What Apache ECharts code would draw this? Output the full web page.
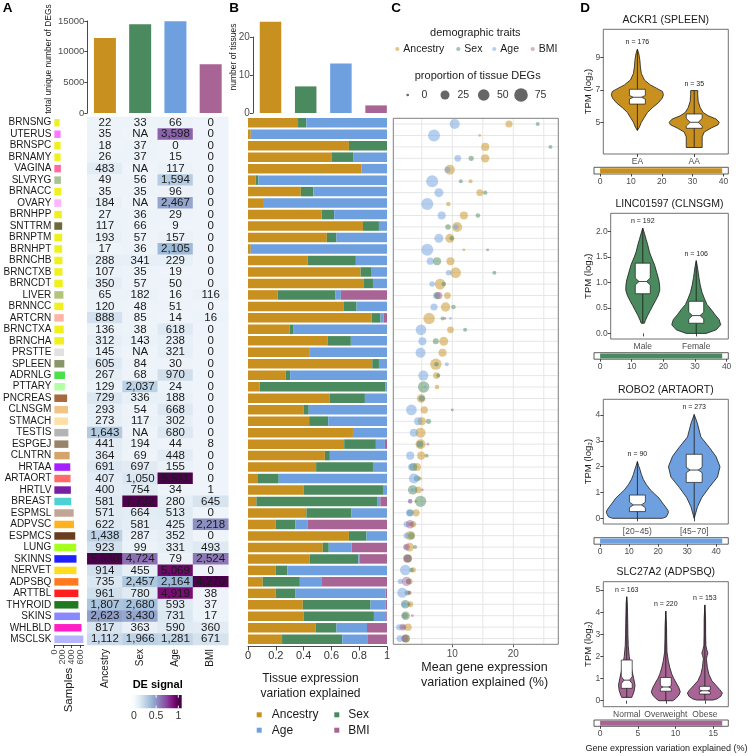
<!DOCTYPE html>
<html>
<head>
<meta charset="utf-8">
<script src="https://cdn.jsdelivr.net/npm/echarts@6.0.0/dist/echarts.min.js"></script>
<style>
html,body{margin:0;padding:0;background:#fff;}
#chart{width:748px;height:756px;}
</style>
</head>
<body>
<div id="chart"></div>
<script>
// ---------------- DATA ----------------
const traits = ['Ancestry', 'Sex', 'Age', 'BMI'];
const totalDEGs = [12230, 14460, 14950, 7940];
const tissueCounts = [24, 7, 13, 2];

const tissues = ['BRNSNG','UTERUS','BRNSPC','BRNAMY','VAGINA','SLVRYG','BRNACC','OVARY','BRNHPP','SNTTRM','BRNPTM','BRNHPT','BRNCHB','BRNCTXB','BRNCDT','LIVER','BRNNCC','ARTCRN','BRNCTXA','BRNCHA','PRSTTE','SPLEEN','ADRNLG','PTTARY','PNCREAS','CLNSGM','STMACH','TESTIS','ESPGEJ','CLNTRN','HRTAA','ARTAORT','HRTLV','BREAST','ESPMSL','ADPVSC','ESPMCS','LUNG','SKINNS','NERVET','ADPSBQ','ARTTBL','THYROID','SKINS','WHLBLD','MSCLSK'];
const samples = [123,145,145,145,152,152,159,159,174,181,181,181,188,188,195,210,210,217,217,224,224,231,246,246,296,318,318,325,325,354,369,376,383,390,448,455,484,506,513,513,557,557,557,593,629,672];
const sampleTicks = [0, 200, 400, 600];

const degAncestry = [22,35,18,26,483,49,35,184,27,117,193,17,288,107,350,65,120,888,136,312,145,605,267,129,729,293,273,1643,441,364,691,407,400,581,571,622,1438,923,5530,914,735,961,1807,2623,817,1112];
const degSex = [33,null,37,37,null,56,35,null,36,66,57,36,341,35,57,182,48,85,38,143,null,84,68,2037,336,54,117,null,194,69,697,1050,754,7732,664,581,287,99,4724,455,2457,780,2680,3430,363,1966];
const degAge = [66,3598,0,15,117,1594,96,2467,29,9,157,2105,229,19,50,16,51,14,618,238,321,30,970,24,188,668,302,680,44,448,155,5511,34,280,513,425,352,331,79,5069,2164,4919,593,731,590,1281];
const degBMI = [0,0,0,0,0,0,0,0,0,0,0,0,0,0,0,116,0,16,0,0,0,0,0,0,0,0,0,0,8,0,0,0,1,645,0,2218,0,493,2524,0,4270,38,37,17,360,671];

const varAncestry = [.36,.02,.726,.60,.815,.055,.38,.108,.53,.827,.567,.02,.43,.81,.834,.214,.69,.889,.30,.572,.445,.894,.272,.084,.589,.399,.44,.755,.692,.553,.49,.072,.399,.06,.42,.20,.726,.538,.445,.20,.106,.20,.394,.399,.488,.245];
const varSex = [.06,0,.274,.156,0,.02,.09,0,.09,.115,.07,0,.346,.075,.065,.416,.091,.065,.024,.168,0,.048,.031,.906,.252,.038,.137,0,.228,.036,.409,.149,.572,.873,.325,.142,.127,.043,.349,.084,.267,.139,.488,.507,.149,.433];
const varAge = [.58,.98,0,.244,.185,.925,.53,.892,.38,.058,.363,.98,.224,.115,.101,.038,.219,.022,.676,.26,.555,.058,.697,.01,.159,.563,.423,.245,.065,.411,.101,.779,.029,.019,.255,.089,.147,.164,.007,.716,.159,.651,.108,.089,.219,.185];
const varBMI = [0,0,0,0,0,0,0,0,0,0,0,0,0,0,0,.332,0,.024,0,0,0,0,0,0,0,0,0,0,.015,0,0,0,0,.048,0,.569,0,.255,.2,0,.469,.01,.01,.005,.144,.137];

const meanAncestry = [19.3,14.5,15.4,15.4,9.6,13.0,14.5,9.35,11.9,10.8,9.6,11.9,9.7,10.55,8.0,9.2,8.9,6.2,9.7,8.6,8.4,7.3,7.4,7.5,4.9,5.4,5.0,4.8,4.8,4.9,4.2,4.7,4.4,4.0,4.05,3.6,3.1,3.0,2.75,3.6,3.0,2.95,3.1,2.25,2.75,2.4];
const propAncestry = [12,0,18,20,34,1,10,2,18,34,25,0,18,40,40,10,28,47,10,25,18,47,10,2,22,13,18,34,34,18,18,1,10,0,13,7,28,22,18,4,7,1,7,7,13,18];
const meanSex = [24.0,null,26.1,13.1,null,11.4,15.4,null,14.2,9.3,9.9,15.8,7.5,16.9,8.6,7.5,10.2,8.4,12.1,7.3,null,7.4,7.7,5.3,5.0,10.0,6.1,null,4.7,5.8,3.6,4.2,3.5,4.8,3.1,3.2,3.3,3.9,2.7,3.3,2.8,2.6,2.3,2.35,2.0,2.35];
const propSex = [1,null,1,4,null,1,2,null,2,5,2,0,18,1,2,13,2,1,1,7,null,2,1,47,7,0,4,null,10,1,18,7,28,47,10,2,10,1,18,2,4,4,22,22,2,18];
const meanAge = [10.4,7.0,null,10.9,9.2,6.7,7.8,5.9,8.26,10.6,7.8,5.9,6.4,9.4,6.7,7.3,7.0,9.7,4.87,5.1,4.8,9.1,5.25,5.5,5.1,3.3,4.4,3.7,4.5,3.1,3.3,3.7,3.5,3.1,3.0,2.5,2.5,2.4,2.6,2.3,1.5,1.8,2.1,2.1,1.3,1.4];
const propAge = [34,54,null,10,7,54,25,54,18,4,25,54,13,5,5,2,12,0,40,18,34,1,34,0,1,40,18,18,1,18,10,34,1,2,13,7,7,2,0,40,4,34,4,1,7,10];
const meanBMI = [null,null,null,null,null,null,null,null,null,null,null,null,null,null,null,7.8,null,8.8,null,null,null,null,null,null,null,null,null,null,6.0,null,null,null,5.1,3.1,null,3.1,null,2.5,2.6,null,2.5,3.0,2.95,3.45,1.9,2.2];
const propBMI = [null,null,null,null,null,null,null,null,null,null,null,null,null,null,null,13,null,0,null,null,null,null,null,null,null,null,null,null,0,null,null,null,0,2,null,22,null,10,18,null,28,1,0,0,10,10];

// Panel D: violin density profiles [value, half-width in category units], box stats [q1, median, q3], n
const ackr1Cats = ['EA', 'AA'];
const ackr1EA = [[4.5,0],[4.7,.035],[5.0,.07],[5.3,.123],[5.6,.176],[5.9,.264],[6.2,.37],[6.5,.44],[6.7,.458],[6.9,.44],[7.1,.335],[7.3,.229],[7.6,.123],[8.0,.07],[8.4,.053],[8.8,.044],[9.2,.026],[9.5,0]];
const ackr1AA = [[3.45,.14],[3.8,.14],[4.1,.14],[4.4,.176],[4.65,.3],[4.85,.42],[5.0,.44],[5.2,.387],[5.4,.246],[5.6,.158],[5.9,.106],[6.3,.07],[6.7,.062],[6.95,.062]];
const ackr1Box = [[6.12,6.54,7.03],[4.63,5.0,5.51]];
const ackr1N = [176, 35];
const ackr1Var = 39.6;

const lincCats = ['Male', 'Female'];
const lincMale = [[0.2,.03],[0.25,.047],[0.35,.09],[0.45,.14],[0.55,.19],[0.65,.243],[0.75,.29],[0.85,.318],[0.95,.315],[1.05,.3],[1.2,.26],[1.35,.219],[1.5,.16],[1.6,.125],[1.75,.09],[1.85,.062],[1.95,.035],[2.07,0]];
const lincFemale = [[0.0,.187],[0.07,.374],[0.17,.458],[0.27,.43],[0.37,.35],[0.47,.28],[0.57,.2],[0.68,.155],[0.8,.11],[0.95,.075],[1.1,.05],[1.2,.037],[1.32,.02],[1.43,0]];
const lincBox = [[0.78,1.02,1.38],[0.2,0.35,0.63]];
const lincN = [192, 106];
const lincVar = 38.6;

const robo2Cats = ['[20\u221245)', '[45\u221270]'];
const robo2Young = [[0,.44],[0.06,.51],[0.22,.546],[0.3,.54],[0.45,.493],[0.6,.44],[0.78,.382],[0.95,.3],[1.1,.229],[1.3,.16],[1.5,.106],[1.7,.07],[1.9,.044],[2.05,.02],[2.2,0]];
const robo2Old = [[0,0],[0.45,.058],[0.8,.132],[1.2,.264],[1.6,.41],[2.0,.454],[2.4,.382],[2.75,.264],[3.15,.118],[3.7,.053],[4.02,0]];
const robo2Box = [[0.26,0.52,0.9],[1.39,1.87,2.48]];
const robo2N = [90, 273];
const robo2Var = 42.1;

const slcCats = ['Normal', 'Overweight', 'Obese'];
const slcNormal = [[0.15,.128],[0.25,.154],[0.45,.192],[0.7,.212],[1.0,.179],[1.3,.141],[1.6,.102],[2.0,.064],[2.5,.038],[3.0,.03],[3.5,.026],[4.0,.02],[4.4,.015],[4.7,0]];
const slcOverweight = [[0,.179],[0.1,.256],[0.25,.333],[0.4,.371],[0.6,.333],[0.8,.269],[1.0,.205],[1.2,.154],[1.5,.102],[1.8,.064],[2.2,.03],[2.8,.022],[3.4,.018],[4.05,0]];
const slcObese = [[0.03,.205],[0.08,.307],[0.2,.41],[0.35,.448],[0.5,.384],[0.7,.282],[0.9,.179],[1.2,.102],[1.5,.064],[1.9,.038],[2.05,.06],[2.15,.077],[2.3,.05],[2.5,.026],[3.0,.02],[3.7,.018],[4.33,0]];
const slcBox = [[0.56,0.93,1.84],[0.43,0.62,1.05],[0.3,0.45,0.65]];
const slcN = [163, 220, 153];
const slcVar = 16.2;

const sizeLegendValues = [0, 25, 50, 75];
const deLegendTicks = [0, 0.5, 1];

// ---------------- STYLES ----------------
const FONT = '"Liberation Sans", Arial, Helvetica, sans-serif';
const traitColors = ['#C8901F', '#4A8A5E', '#6EA0E0', '#A86494'];
const BuPu = ['#f7fcfd','#e0ecf4','#bfd3e6','#9ebcda','#8c96c6','#8c6bb1','#88419d','#810f7c','#4d004b'];
const heatColors = ['#eef4f9','#dde8f2','#bfd3e6','#9ebcda','#8c96c6','#8c6bb1','#88419d','#810f7c','#4d004b'];
const tissueColors = ['#EEEE00','#FF66FF','#EEEE00','#EEEE00','#FF5599','#99BB88','#EEEE00','#FFAAFF','#EEEE00','#555522','#EEEE00','#EEEE00','#EEEE00','#EEEE00','#EEEE00','#AABB66','#EEEE00','#FFAA99','#EEEE00','#EEEE00','#DDDDDD','#778855','#33DD33','#AAFF99','#995522','#EEBB77','#FFDD99','#AAAAAA','#8B7355','#CC9955','#9900FF','#FF5555','#660099','#33CCCC','#BB9988','#FFAA00','#552200','#99FF00','#0000FF','#FFD700','#FF6600','#FF0000','#006600','#7777FF','#FF00BB','#AAAAFF'];
const sizeOf = p => 2.7 + 1.26 * Math.sqrt(p);
const fmt = v => v.toLocaleString('en-US');

// ---------------- BUILD ----------------
const degCols = [degAncestry, degSex, degAge, degBMI];
const colMax = degCols.map(c => Math.max(...c.filter(v => v != null)));
const heatData = [];
degCols.forEach((col, j) => col.forEach((v, i) => heatData.push([j, i, v == null ? -1 : v / colMax[j]])));

const meanCols = [meanAncestry, meanSex, meanAge, meanBMI];
const propCols = [propAncestry, propSex, propAge, propBMI];
const varCols = [varAncestry, varSex, varAge, varBMI];

const grids = [
  {left: 87.3, top: 21, width: 141, height: 92},      // 0 A bars
  {left: 87.3, top: 117, width: 141, height: 528},    // 1 A heatmap
  {left: 52.3, top: 117, width: 31.4, height: 528},   // 2 A samples
  {left: 252.9, top: 37, width: 140.8, height: 76},   // 3 B bars
  {left: 248, top: 117, width: 139, height: 528},     // 4 B stacked
  {left: 393.3, top: 118.3, width: 165, height: 526}, // 5 C
  {left: 603.3, top: 29.3, width: 125, height: 124.7, show: true, borderColor: '#4d4d4d', borderWidth: 0.8}, // 6 D1
  {left: 594, top: 167.3, width: 134.3, height: 6.7, show: true, borderColor: '#333', borderWidth: 0.8},    // 7
  {left: 610.7, top: 213.3, width: 117.6, height: 125.7, show: true, borderColor: '#4d4d4d', borderWidth: 0.8}, // 8 D2
  {left: 594, top: 352.7, width: 134.3, height: 6.5, show: true, borderColor: '#333', borderWidth: 0.8},    // 9
  {left: 603.3, top: 399.3, width: 125, height: 124.7, show: true, borderColor: '#4d4d4d', borderWidth: 0.8}, // 10 D3
  {left: 594, top: 537.7, width: 134.3, height: 6.5, show: true, borderColor: '#333', borderWidth: 0.8},    // 11
  {left: 603.3, top: 581.7, width: 125, height: 125, show: true, borderColor: '#4d4d4d', borderWidth: 0.8}, // 12 D4
  {left: 594, top: 720, width: 134.3, height: 6.3, show: true, borderColor: '#333', borderWidth: 0.8}       // 13
];

const axLine = {show: true, lineStyle: {color: '#1a1a1a', width: 0.8}};
const axTick = (len, extra) => Object.assign({show: true, length: len, lineStyle: {color: '#1a1a1a', width: 0.8}}, extra || {});
const lab = (size, extra) => Object.assign({fontSize: size, color: '#4d4d4d', fontFamily: FONT, showMinLabel: true, showMaxLabel: true}, extra || {});

function dXAxis(gi, cats) {
  const vals = cats.map((c, i) => i + 1);
  return {gridIndex: gi, type: 'value', min: 0.4, max: cats.length + 0.6,
    axisLine: {show: false}, splitLine: {show: false},
    axisTick: axTick(3, {customValues: vals}),
    axisLabel: lab(8.5, {customValues: vals, margin: 3, formatter: v => cats[Math.round(v) - 1]})};
}
function dYAxis(gi, min, max, ticks, dec) {
  return {gridIndex: gi, type: 'value', min: min, max: max,
    axisLine: {show: false}, splitLine: {show: false},
    axisTick: axTick(3, {customValues: ticks}),
    axisLabel: lab(8.5, {customValues: ticks, margin: 3, formatter: v => dec ? v.toFixed(1) : String(v)})};
}
function progX(gi, v, ticks) {
  return {gridIndex: gi, type: 'value', min: -0.05 * v, max: 1.05 * v,
    axisLine: {show: false}, splitLine: {show: false},
    axisTick: axTick(2.5, {customValues: ticks}),
    axisLabel: lab(8.5, {customValues: ticks, margin: 3})};
}
const progY = gi => ({gridIndex: gi, type: 'category', data: ['v'], show: false});

const xAxes = [
  {gridIndex: 0, type: 'category', data: traits, show: false},
  {gridIndex: 1, type: 'category', data: traits, position: 'bottom', axisLine: {show: false}, axisTick: {show: false},
    axisLabel: lab(10, {rotate: 90, margin: 4, color: '#1a1a1a', interval: 0})},
  {gridIndex: 2, type: 'value', min: 0, max: 680, axisLine: axLine, splitLine: {show: false},
    axisTick: axTick(3, {customValues: sampleTicks}), axisLabel: {show: false}},
  {gridIndex: 3, type: 'category', data: traits, show: false},
  {gridIndex: 4, type: 'value', min: 0, max: 1, interval: 0.2, offset: 1.5, axisLine: axLine, splitLine: {show: false},
    axisTick: axTick(4), axisLabel: lab(11, {margin: 4, color: '#333'})},
  {gridIndex: 5, type: 'value', min: 0.33, max: 27.38, axisLine: {show: false}, splitLine: {show: false},
    axisTick: axTick(3, {customValues: [10, 20], lineStyle: {color: '#333', width: 0.8}}),
    axisLabel: lab(10, {customValues: [10, 20], margin: 5})},
  dXAxis(6, ackr1Cats), progX(7, ackr1Var, [0, 10, 20, 30, 40]),
  dXAxis(8, lincCats), progX(9, lincVar, [0, 10, 20, 30, 40]),
  dXAxis(10, robo2Cats), progX(11, robo2Var, [0, 10, 20, 30, 40]),
  dXAxis(12, slcCats), progX(13, slcVar, [0, 5, 10, 15])
];
const yAxes = [
  {gridIndex: 0, type: 'value', min: 0, max: 15000, interval: 5000, axisLine: axLine, splitLine: {show: false},
    axisTick: axTick(3), axisLabel: lab(9.5, {margin: 3, formatter: v => String(v)})},
  {gridIndex: 1, type: 'category', data: tissues, inverse: true, show: false},
  {gridIndex: 2, type: 'category', data: tissues, inverse: true, axisLine: {show: false}, axisTick: {show: false},
    axisLabel: lab(10, {interval: 0, margin: 3, color: '#1a1a1a'})},
  {gridIndex: 3, type: 'value', min: 0, max: 20, interval: 10, axisLine: axLine, splitLine: {show: false},
    axisTick: axTick(3), axisLabel: lab(10, {margin: 3})},
  {gridIndex: 4, type: 'category', data: tissues, inverse: true, show: false},
  {gridIndex: 5, type: 'category', data: tissues, inverse: true, show: false},
  dYAxis(6, 3.05, 10.72, [5, 7, 9], false), progY(7),
  dYAxis(8, -0.11, 2.36, [0, 0.5, 1, 1.5, 2], true), progY(9),
  dYAxis(10, -0.22, 4.61, [0, 1, 2, 3, 4], false), progY(11),
  dYAxis(12, -0.27, 5.38, [0, 1, 2, 3, 4, 5], false), progY(13)
];

function violinSeries(gi, profiles, boxes, ns, color) {
  return {
    type: 'custom', xAxisIndex: gi, yAxisIndex: gi, clip: false, silent: true, z: 5,
    data: profiles.map((p, i) => [i + 1, boxes[i][1]]),
    renderItem(params, api) {
      const i = params.dataIndex, cx = i + 1, prof = profiles[i];
      const [q1, med, q3] = boxes[i], n = ns[i];
      const ymin = prof[0][0], ymax = prof[prof.length - 1][0];
      const pts = prof.map(([y, h]) => api.coord([cx - h, y]))
        .concat(prof.slice().reverse().map(([y, h]) => api.coord([cx + h, y])));
      const bw = 0.28, nd = 1.58 * (q3 - q1) / Math.sqrt(n);
      const bx = [[cx - bw / 2, q1], [cx - bw / 2, med - nd], [cx - bw / 4, med], [cx - bw / 2, med + nd], [cx - bw / 2, q3],
        [cx + bw / 2, q3], [cx + bw / 2, med + nd], [cx + bw / 4, med], [cx + bw / 2, med - nd], [cx + bw / 2, q1]].map(p => api.coord(p));
      const lo = api.coord([cx, ymin]), hi = api.coord([cx, ymax]);
      const m1 = api.coord([cx - bw / 4, med]), m2 = api.coord([cx + bw / 4, med]);
      return {type: 'group', children: [
        {type: 'polygon', shape: {points: pts}, style: {fill: color, stroke: '#1a1a1a', lineWidth: 0.8}},
        {type: 'line', shape: {x1: lo[0], y1: lo[1], x2: hi[0], y2: hi[1]}, style: {stroke: '#1a1a1a', lineWidth: 0.8}},
        {type: 'polygon', shape: {points: bx}, style: {fill: '#fff', stroke: '#1a1a1a', lineWidth: 0.7}},
        {type: 'line', shape: {x1: m1[0], y1: m1[1], x2: m2[0], y2: m2[1]}, style: {stroke: '#1a1a1a', lineWidth: 0.8}},
        {type: 'text', x: hi[0], y: hi[1] - 7, style: {text: 'n = ' + n, align: 'center', verticalAlign: 'middle', fontSize: 7, fontFamily: FONT, fill: '#222'}}
      ]};
    }
  };
}
const progSeries = (gi, v, color) => ({type: 'bar', xAxisIndex: gi, yAxisIndex: gi, data: [v], barWidth: 5, itemStyle: {color: color}, silent: true});

const series = [];
series.push({type: 'bar', xAxisIndex: 0, yAxisIndex: 0, data: totalDEGs, barWidth: 22, clip: false,
  itemStyle: {color: p => traitColors[p.dataIndex]}, silent: true});
const heatIndex = series.length;
series.push({type: 'heatmap', xAxisIndex: 1, yAxisIndex: 1, data: heatData, silent: true,
  label: {show: true, fontSize: 11.5, fontFamily: FONT, color: '#1a1a1a',
    formatter: p => { const v = degCols[p.value[0]][p.value[1]]; return v == null ? 'NA' : fmt(v); }}});
series.push({type: 'bar', xAxisIndex: 2, yAxisIndex: 2, data: samples, barWidth: 7.5, silent: true,
  itemStyle: {color: p => tissueColors[p.dataIndex], opacity: 0.88}});
// sample axis tick labels (rotated), placed through the axis scale
series.push({type: 'custom', xAxisIndex: 2, yAxisIndex: 2, clip: false, silent: true,
  data: sampleTicks.map(v => [v, 0]),
  renderItem(params, api) {
    const cs = params.coordSys, x = api.coord([api.value(0), 0])[0];
    return {type: 'text', x: x, y: cs.y + cs.height + 4.5, rotation: Math.PI / 2,
      style: {text: String(api.value(0)), align: 'right', verticalAlign: 'middle', fontSize: 9, fontFamily: FONT, fill: '#4d4d4d'}};
  }});
series.push({type: 'bar', xAxisIndex: 3, yAxisIndex: 3, data: tissueCounts, barWidth: 21.5, clip: false,
  itemStyle: {color: p => traitColors[p.dataIndex]}, silent: true});
varCols.forEach((arr, k) => series.push({type: 'bar', name: traits[k], xAxisIndex: 4, yAxisIndex: 4, stack: 'v', data: arr,
  barWidth: 9.5, itemStyle: {color: traitColors[k]}, silent: true}));
series.push({type: 'custom', xAxisIndex: 5, yAxisIndex: 5, silent: true, z: 1,
  data: tissues.map((t, i) => [0.33, i]),
  renderItem(params, api) {
    const cs = params.coordSys, y = api.coord([0.33, params.dataIndex])[1];
    return {type: 'line', shape: {x1: cs.x, y1: y, x2: cs.x + cs.width, y2: y}, style: {stroke: '#e6e6e6', lineWidth: 1}};
  }});
series.push({type: 'custom', xAxisIndex: 5, yAxisIndex: 5, silent: true, z: 1,
  data: [[5, 0], [10, 0], [15, 0], [20, 0], [25, 0]],
  renderItem(params, api) {
    const cs = params.coordSys, x = api.coord([api.value(0), 0])[0];
    return {type: 'line', shape: {x1: x, y1: cs.y, x2: x, y2: cs.y + cs.height}, style: {stroke: '#e6e6e6', lineWidth: 1}};
  }});
series.push({type: 'custom', xAxisIndex: 5, yAxisIndex: 5, silent: true, z: 2, data: [[0.33, 0]],
  renderItem(params) { const cs = params.coordSys;
    return {type: 'rect', shape: {x: cs.x, y: cs.y, width: cs.width, height: cs.height}, style: {fill: 'none', stroke: '#808080', lineWidth: 1}}; }});
meanCols.forEach((arr, k) => {
  const d = [];
  arr.forEach((m, i) => { if (m != null) d.push([m, i, propCols[k][i]]); });
  series.push({type: 'scatter', xAxisIndex: 5, yAxisIndex: 5, data: d, z: 3, silent: true,
    symbolSize: v => sizeOf(v[2]), itemStyle: {color: traitColors[k], opacity: 0.5}});
});
series.push(violinSeries(6, [ackr1EA, ackr1AA], ackr1Box, ackr1N, traitColors[0]));
series.push(progSeries(7, ackr1Var, traitColors[0]));
series.push(violinSeries(8, [lincMale, lincFemale], lincBox, lincN, traitColors[1]));
series.push(progSeries(9, lincVar, traitColors[1]));
series.push(violinSeries(10, [robo2Young, robo2Old], robo2Box, robo2N, traitColors[2]));
series.push(progSeries(11, robo2Var, traitColors[2]));
series.push(violinSeries(12, [slcNormal, slcOverweight, slcObese], slcBox, slcN, traitColors[3]));
series.push(progSeries(13, slcVar, traitColors[3]));

// ---------------- GRAPHIC (titles, legends) ----------------
const T = (x, y, text, size, extra) => ({type: 'text', x: x, y: y, silent: true, z: 10,
  style: Object.assign({text: text, fontSize: size, fontFamily: FONT, fill: '#1a1a1a', align: 'center', verticalAlign: 'middle'}, extra || {})});
const R = (x, y, text, size, extra) => Object.assign(T(x, y, text, size, extra), {rotation: Math.PI / 2});

const graphic = [];
[['A', 7.5], ['B', 234], ['C', 396], ['D', 585]].forEach(([t, x]) => graphic.push(T(x, 8.5, t, 13.5, {fontWeight: 'bold', fill: '#000'})));
graphic.push(R(49, 59, 'total unique number of DEGs', 8.5));
graphic.push(R(233.5, 57, 'number of tissues', 8.5));
graphic.push(R(68.5, 690, 'Samples', 11.5));
graphic.push(T(157.7, 685, 'DE signal', 11, {fontWeight: 'bold', fill: '#000'}));
const cbX = 131.7, cbW = 50, v0 = 134, v1 = 178.3;
graphic.push({type: 'rect', shape: {x: cbX, y: 695, width: cbW, height: 13.3}, silent: true,
  style: {fill: {type: 'linear', x: 0, y: 0, x2: 1, y2: 0, global: false,
    colorStops: [{offset: 0, color: BuPu[0]}].concat(BuPu.map((c, i) => ({offset: (v0 - cbX + (v1 - v0) * i / 8) / cbW, color: c})), [{offset: 1, color: BuPu[8]}])}}});
deLegendTicks.forEach(t => {
  const x = v0 + (v1 - v0) * t;
  graphic.push({type: 'line', shape: {x1: x, y1: 695, x2: x, y2: 697.7}, style: {stroke: '#fff', lineWidth: 1}, silent: true});
  graphic.push({type: 'line', shape: {x1: x, y1: 705.6, x2: x, y2: 708.3}, style: {stroke: '#fff', lineWidth: 1}, silent: true});
  graphic.push(T(x, 716, String(t), 10.5, {fill: '#333'}));
});
graphic.push(T(310.5, 686, 'Tissue expression\nvariation explained', 12, {lineHeight: 15}));
[[256.7, 712.3, 271.7, 0], [334.3, 712.3, 348.3, 1], [256.7, 727.7, 271.7, 2], [334.3, 727.7, 348.3, 3]].forEach(([sx, sy, tx, k]) => {
  graphic.push({type: 'rect', shape: {x: sx, y: sy, width: 5, height: 5}, style: {fill: traitColors[k]}, silent: true});
  graphic.push(T(tx, sy + 2.7, traits[k], 12, {align: 'left'}));
});
graphic.push(T(475.3, 32.5, 'demographic traits', 11));
[[397.3, 0], [458.3, 1], [494.3, 2], [532.7, 3]].forEach(([x, k]) => {
  graphic.push({type: 'circle', shape: {cx: x, cy: 49, r: 2.1}, style: {fill: traitColors[k], opacity: 0.5}, silent: true});
  graphic.push(T(x + 6, 49, traits[k], 10.5, {align: 'left'}));
});
graphic.push(T(477.7, 76, 'proportion of tissue DEGs', 11));
[[407.7, 424.3], [445, 463.3], [483.7, 502.8], [521, 540.5]].forEach(([cx, tx], i) => {
  graphic.push({type: 'circle', shape: {cx: cx, cy: 95, r: sizeOf(sizeLegendValues[i]) / 2}, style: {fill: 'rgba(0,0,0,0.6)'}, silent: true});
  graphic.push(T(tx, 95, String(sizeLegendValues[i]), 10.5, {fill: '#333'}));
});
graphic.push(T(484.5, 675, 'Mean gene expression\nvariation explained (%)', 12.5, {lineHeight: 15.5}));
graphic.push(T(665.8, 20, 'ACKR1 (SPLEEN)', 10.5));
graphic.push(T(669.5, 204, 'LINC01597 (CLNSGM)', 10.5));
graphic.push(T(665.8, 390, 'ROBO2 (ARTAORT)', 10.5));
graphic.push(T(665.8, 571.7, 'SLC27A2 (ADPSBQ)', 10.5));
[91.6, 276.2, 461.6, 644.2].forEach(y => graphic.push(R(588, y, 'TPM (log\u2082)', 9.5)));
graphic.push(T(666.5, 749, 'Gene expression variation explained (%)', 9));

const option = {
  backgroundColor: '#fff',
  animation: false,
  textStyle: {fontFamily: FONT},
  grid: grids,
  xAxis: xAxes,
  yAxis: yAxes,
  visualMap: [{type: 'continuous', show: false, seriesIndex: heatIndex, dimension: 2, min: 0, max: 1,
    inRange: {color: heatColors}, outOfRange: {color: ['#ffffff']}}],
  series: series,
  graphic: graphic
};
const chart = echarts.init(document.getElementById('chart'), null, {renderer: 'canvas'});
chart.setOption(option);
</script>
</body>
</html>
